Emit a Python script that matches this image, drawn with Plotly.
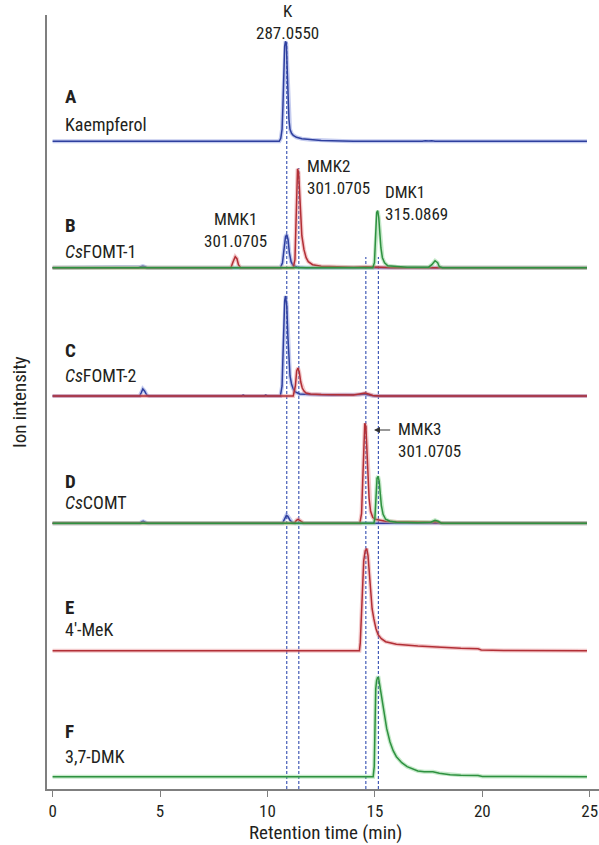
import plotly.graph_objects as go

# ---------------- data (intensity in relative units, ~100 = tallest peak) ----------------
panel_letters = ["A", "B", "C", "D", "E", "F"]
panel_names = ["Kaempferol", "<i>Cs</i>FOMT-1", "<i>Cs</i>FOMT-2", "<i>Cs</i>COMT", "4′-MeK", "3,7-DMK"]
panel_offsets = [647.7, 521.3, 393.0, 265.7, 138.3, 12.3]

# A : kaempferol standard (blue)
A_blue_t = [0, 10.55, 10.62, 10.68, 10.72, 10.76, 10.80, 10.84, 10.88, 10.92, 10.96, 11.0, 11.05, 11.12, 11.2, 11.35, 11.6, 12.0, 12.5, 13.5, 14.0, 17.2, 17.35, 17.5, 17.65, 17.8, 24.87]
A_blue_i = [0, 0, 3, 12, 35, 70, 95, 100, 97, 72, 40, 22, 12, 8, 6, 4, 2.5, 1.5, 0.8, 0.3, 0, 0, 0.6, 0.3, 0.6, 0, 0]

# B : CsFOMT-1
B_blue_t = [0, 4.0, 4.1, 4.2, 4.3, 4.4, 10.6, 10.7, 10.78, 10.84, 10.9, 10.96, 11.02, 11.1, 11.2, 11.4, 11.8, 24.87]
B_blue_i = [0, 0, 1, 1.5, 1, 0, 0, 5, 20, 31, 33, 28, 15, 6, 2, 0.5, 0, 0]
B_red_t = [0, 8.3, 8.4, 8.5, 8.58, 8.65, 8.75, 11.2, 11.28, 11.32, 11.36, 11.4, 11.45, 11.5, 11.55, 11.6, 11.7, 11.8, 11.9, 12.1, 12.5, 13.0, 14.0, 14.6, 15.0, 16.0, 24.87]
B_red_i = [0, 0, 6, 11, 9, 3, 0, 0, 8, 40, 85, 99, 95, 75, 50, 32, 18, 10, 6, 3, 1.5, 1, 0.5, 1, 0.5, 0, 0]
B_green_t = [0, 14.9, 14.98, 15.03, 15.08, 15.13, 15.18, 15.23, 15.28, 15.35, 15.45, 15.6, 16.0, 16.5, 17.5, 17.65, 17.8, 17.92, 18.0, 18.15, 24.87]
B_green_i = [0, 0, 5, 30, 55, 57, 50, 35, 20, 10, 5, 2, 1, 0.5, 0.5, 3, 7, 5, 1, 0, 0]

# C : CsFOMT-2
C_blue_t = [0, 4.05, 4.12, 4.2, 4.28, 4.38, 4.5, 8.8, 8.87, 8.95, 9.85, 9.92, 10.0, 10.6, 10.68, 10.74, 10.8, 10.84, 10.9, 10.95, 11.0, 11.05, 11.12, 11.2, 11.3, 11.5, 12.0, 13.0, 14.3, 14.5, 14.7, 15.0, 24.87]
C_blue_i = [0, 0, 3, 7, 5, 1, 0, 0, 1, 0, 0, 1, 0, 0, 10, 55, 95, 100, 90, 60, 35, 20, 12, 7, 4, 2, 1.5, 1, 1.5, 2, 1, 0, 0]
C_red_t = [0, 11.2, 11.3, 11.36, 11.42, 11.48, 11.55, 11.62, 11.7, 11.8, 12.0, 12.5, 14.0, 14.4, 14.55, 14.7, 14.9, 15.2, 24.87]
C_red_i = [0, 0, 10, 25, 28, 24, 14, 8, 5, 3, 2, 1.5, 1, 2, 3, 2, 0.5, 0, 0]

# D : CsCOMT
D_blue_t = [0, 4.05, 4.15, 4.22, 4.32, 4.45, 10.7, 10.8, 10.88, 10.95, 11.05, 11.15, 11.3, 24.87]
D_blue_i = [0, 0, 1.5, 2, 1, 0, 0, 5, 8, 7, 3, 1, 0, 0]
D_red_t = [0, 11.25, 11.35, 11.42, 11.5, 11.6, 11.7, 14.3, 14.38, 14.43, 14.48, 14.53, 14.58, 14.63, 14.68, 14.73, 14.8, 14.9, 15.0, 15.2, 15.5, 16.0, 17.0, 17.6, 17.8, 18.0, 18.2, 24.87]
D_red_i = [0, 0, 3, 4, 3, 1, 0, 0, 10, 40, 80, 100, 97, 75, 45, 25, 12, 6, 4, 3, 2, 1.5, 1, 1, 1.5, 0.5, 0, 0]
D_green_t = [0, 14.95, 15.0, 15.05, 15.1, 15.15, 15.2, 15.25, 15.3, 15.38, 15.5, 15.7, 16.0, 17.0, 17.6, 17.8, 17.95, 18.1, 24.87]
D_green_i = [0, 0, 5, 30, 45, 47, 42, 30, 18, 9, 4, 2, 1, 0.5, 1, 3, 2, 0, 0]

# E : 4'-MeK standard (red)
E_red_t = [0, 14.28, 14.32, 14.36, 14.42, 14.48, 14.55, 14.62, 14.68, 14.74, 14.8, 14.87, 14.95, 15.05, 15.15, 15.3, 15.5, 16.0, 17.0, 18.0, 19.0, 19.8, 19.95, 21.0, 24.87]
E_red_i = [0, 0, 8, 30, 60, 90, 100, 102, 95, 75, 55, 42, 32, 22, 16, 12, 9, 6.4, 4.7, 3.4, 2.4, 2, 0.7, 0.3, 0]

# F : 3,7-DMK standard (green)
F_green_t = [0, 14.92, 14.97, 15.0, 15.04, 15.08, 15.12, 15.17, 15.22, 15.28, 15.35, 15.45, 15.55, 15.7, 15.85, 16.0, 16.25, 16.5, 16.75, 17.0, 17.3, 17.7, 18.0, 18.5, 19.0, 19.8, 20.0, 24.87]
F_green_i = [0, 0, 10, 60, 88, 96, 99, 99, 92, 85, 75, 62, 48, 35, 26, 20, 14, 10, 7.5, 5.7, 5, 5, 3.5, 2, 1.5, 1.2, 0.3, 0]

# dashed reference lines (retention time, top of line)
marker_times = [10.9, 11.46, 14.58, 15.16]
marker_tops = [747, 621, 532, 532]

x_ticks = [0, 5, 10, 15, 20, 25]

# ---------------- styling ----------------
FONT = "Roboto Condensed, Roboto, Liberation Sans, sans-serif"
TXT = "#231f20"
colors = {
    "blue": ("#2e3f9e", "rgba(90,110,210,0.35)"),
    "red": ("#b22f36", "rgba(225,120,125,0.40)"),
    "green": ("#2e9140", "rgba(110,200,120,0.40)"),
}

series = [
    (0, "blue", A_blue_t, A_blue_i),
    (1, "blue", B_blue_t, B_blue_i),
    (1, "red", B_red_t, B_red_i),
    (1, "green", B_green_t, B_green_i),
    (2, "blue", C_blue_t, C_blue_i),
    (2, "red", C_red_t, C_red_i),
    (3, "blue", D_blue_t, D_blue_i),
    (3, "red", D_red_t, D_red_i),
    (3, "green", D_green_t, D_green_i),
    (4, "red", E_red_t, E_red_i),
    (5, "green", F_green_t, F_green_i),
]

L, R, T, B = 47, 599, 15, 789  # plot area in pixels

fig = go.Figure()

for k, t in enumerate(marker_times):
    fig.add_shape(type="line", xref="x", yref="y", x0=t, x1=t, y0=0, y1=marker_tops[k],
                  line=dict(color="#1d3aa8", width=1, dash="3px,2px"), layer="below")

for panel, col, t, inten in series:
    off = panel_offsets[panel]
    y = [off + v for v in inten]
    dark, light = colors[col]
    fig.add_trace(go.Scatter(x=t, y=y, mode="lines", line=dict(color=light, width=4),
                             hoverinfo="skip", showlegend=False))
    fig.add_trace(go.Scatter(x=t, y=y, mode="lines", line=dict(color=dark, width=1.5),
                             hoverinfo="skip", showlegend=False))

def py(p):
    return B - p

def paper_x(p):
    return (p - L) / (R - L)

def paper_y(p):
    return (B - p) / (B - T)

label_letter_px = [96, 225, 350, 481, 607.5, 731.5]
label_name_px = [124, 251, 375, 502, 629.5, 756.5]
for i in range(6):
    fig.add_annotation(x=0.5, y=py(label_letter_px[i]), xref="x", yref="y", text="<b>" + panel_letters[i] + "</b>",
                       showarrow=False, xanchor="left", yanchor="middle",
                       font=dict(family=FONT, size=19, color=TXT))
    fig.add_annotation(x=0.5, y=py(label_name_px[i]), xref="x", yref="y", text=panel_names[i],
                       showarrow=False, xanchor="left", yanchor="middle",
                       font=dict(family=FONT, size=18, color=TXT))

peak_labels = [
    ("K<br>287.0550", 10.95, 22, "center"),
    ("MMK1<br>301.0705", 8.5, 229.5, "center"),
    ("MMK2<br>301.0705", 11.76, 177, "left"),
    ("DMK1<br>315.0869", 15.37, 203, "left"),
    ("MMK3<br>301.0705", 16.0, 439.5, "left"),
]
for text, xt, ypx, anc in peak_labels:
    fig.add_annotation(x=xt, y=py(ypx), xref="x", yref="y", text=text, showarrow=False,
                       xanchor=anc, yanchor="middle", align=anc,
                       font=dict(family=FONT, size=17, color=TXT))

# arrow for MMK3
fig.add_annotation(x=14.96, y=py(430), ax=15.78, ay=py(430), xref="x", yref="y", axref="x", ayref="y",
                   text="", showarrow=True, arrowhead=2, arrowsize=1, arrowwidth=1.2, arrowcolor="#333")

# axis titles placed as annotations (pixel-accurate)
fig.add_annotation(x=paper_x(325), y=paper_y(832), xref="paper", yref="paper", text="Retention time (min)",
                   showarrow=False, xanchor="center", yanchor="middle",
                   font=dict(family=FONT, size=19, color=TXT))
fig.add_annotation(x=paper_x(19), y=paper_y(402), xref="paper", yref="paper", text="Ion intensity",
                   showarrow=False, xanchor="center", yanchor="middle", textangle=-90,
                   font=dict(family=FONT, size=19, color=TXT))

fig.update_layout(
    width=599, height=845,
    margin=dict(l=L, r=599 - R, t=T, b=845 - B, autoexpand=False),
    paper_bgcolor="white", plot_bgcolor="white",
    showlegend=False,
    font=dict(family=FONT, size=16, color=TXT),
    xaxis=dict(range=[-0.26, 25.43], showgrid=False, zeroline=False, showline=True, automargin=False,
               linecolor="#7f7f7f", linewidth=1.5, ticks="outside", ticklen=6, tickwidth=1.2,
               tickcolor="#7f7f7f", tickvals=x_ticks, ticktext=[str(v) for v in x_ticks],
               tickfont=dict(family=FONT, size=17, color=TXT)),
    yaxis=dict(range=[0, 774], showgrid=False, zeroline=False, showline=True, automargin=False,
               linecolor="#7f7f7f", linewidth=1.5, showticklabels=False, ticks=""),
)

fig.write_html("out.html", config={"displayModeBar": False},
               post_script="document.body.style.margin='0';document.body.style.overflow='hidden';")
